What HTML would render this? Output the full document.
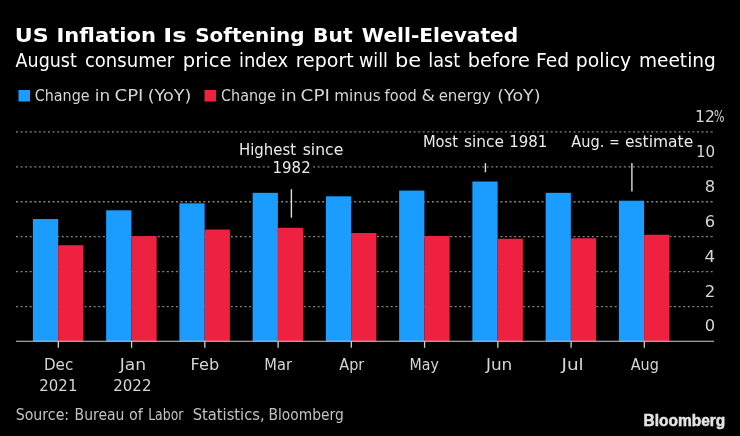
<!DOCTYPE html>
<html lang="en"><head><meta charset="utf-8"><title>US Inflation Is Softening But Well-Elevated</title>
<style>
html,body{margin:0;padding:0;background:#000;}
body{width:740px;height:436px;overflow:hidden;}
svg{display:block;}
text{font-family:"DejaVu Sans","Liberation Sans",sans-serif;}
.t{font-weight:bold;font-size:19.2px;fill:#fff;}
.s{font-size:18.7px;fill:#fff;}
.l{font-size:15.8px;fill:#d6d6d6;}
.x{font-size:15.8px;fill:#d6d6d6;}
.y{font-size:16px;fill:#d6d6d6;}
.a{font-size:15.5px;fill:#ececec;}
.src{font-size:15px;fill:#c2c2c2;}
.g{stroke:#848484;stroke-width:1.3;stroke-dasharray:2 2.57;fill:none;}
.ax{stroke:#cfcfcf;fill:none;}
.an{stroke:#dedede;stroke-width:1.4;fill:none;}
.logo{font-family:"Liberation Sans",sans-serif;font-weight:bold;font-size:16.1px;fill:#e4e4e4;stroke:#e4e4e4;stroke-width:0.5;}
</style></head><body>
<svg width="740" height="436" viewBox="0 0 740 436">
<rect width="740" height="436" fill="#000"/>

<text class="t" x="14.89" y="42.20" textLength="33.95" lengthAdjust="spacingAndGlyphs">US</text>
<text class="t" x="56.49" y="42.20" textLength="99.47" lengthAdjust="spacingAndGlyphs">Inflation</text>
<text class="t" x="163.39" y="42.20" textLength="23.29" lengthAdjust="spacingAndGlyphs">Is</text>
<text class="t" x="195.18" y="42.20" textLength="109.28" lengthAdjust="spacingAndGlyphs">Softening</text>
<text class="t" x="313.00" y="42.20" textLength="39.58" lengthAdjust="spacingAndGlyphs">But</text>
<text class="t" x="361.86" y="42.20" textLength="156.33" lengthAdjust="spacingAndGlyphs">Well-Elevated</text>
<text class="s" x="15.59" y="67.00" textLength="61.25" lengthAdjust="spacingAndGlyphs">August</text>
<text class="s" x="84.90" y="67.00" textLength="89.35" lengthAdjust="spacingAndGlyphs">consumer</text>
<text class="s" x="182.83" y="67.00" textLength="48.62" lengthAdjust="spacingAndGlyphs">price</text>
<text class="s" x="238.94" y="67.00" textLength="49.19" lengthAdjust="spacingAndGlyphs">index</text>
<text class="s" x="295.74" y="67.00" textLength="57.87" lengthAdjust="spacingAndGlyphs">report</text>
<text class="s" x="359.00" y="67.00" textLength="28.99" lengthAdjust="spacingAndGlyphs">will</text>
<text class="s" x="395.00" y="67.00" textLength="26.24" lengthAdjust="spacingAndGlyphs">be</text>
<text class="s" x="428.27" y="67.00" textLength="31.85" lengthAdjust="spacingAndGlyphs">last</text>
<text class="s" x="467.83" y="67.00" textLength="61.99" lengthAdjust="spacingAndGlyphs">before</text>
<text class="s" x="536.10" y="67.00" textLength="33.15" lengthAdjust="spacingAndGlyphs">Fed</text>
<text class="s" x="575.82" y="67.00" textLength="55.34" lengthAdjust="spacingAndGlyphs">policy</text>
<text class="s" x="639.02" y="67.00" textLength="76.80" lengthAdjust="spacingAndGlyphs">meeting</text>
<rect x="18.5" y="90" width="11.5" height="11.5" fill="#1a9dff"/>
<text class="l" x="34.68" y="101.00" textLength="54.90" lengthAdjust="spacingAndGlyphs">Change</text>
<text class="l" x="94.72" y="101.00" textLength="15.39" lengthAdjust="spacingAndGlyphs">in</text>
<text class="l" x="114.47" y="101.00" textLength="29.02" lengthAdjust="spacingAndGlyphs">CPI</text>
<text class="l" x="147.69" y="101.00" textLength="43.74" lengthAdjust="spacingAndGlyphs">(YoY)</text>
<rect x="204.5" y="90" width="11.5" height="11.5" fill="#ee2240"/>
<text class="l" x="221.00" y="101.00" textLength="55.08" lengthAdjust="spacingAndGlyphs">Change</text>
<text class="l" x="280.96" y="101.00" textLength="15.62" lengthAdjust="spacingAndGlyphs">in</text>
<text class="l" x="300.64" y="101.00" textLength="29.28" lengthAdjust="spacingAndGlyphs">CPI</text>
<text class="l" x="334.22" y="101.00" textLength="46.45" lengthAdjust="spacingAndGlyphs">minus</text>
<text class="l" x="384.59" y="101.00" textLength="32.25" lengthAdjust="spacingAndGlyphs">food</text>
<text class="l" x="421.45" y="101.00" textLength="13.42" lengthAdjust="spacingAndGlyphs">&amp;</text>
<text class="l" x="438.67" y="101.00" textLength="52.11" lengthAdjust="spacingAndGlyphs">energy</text>
<text class="l" x="497.28" y="101.00" textLength="43.23" lengthAdjust="spacingAndGlyphs">(YoY)</text>
<line class="g" x1="16" x2="714" y1="306.53" y2="306.53"/>
<line class="g" x1="16" x2="714" y1="271.61" y2="271.61"/>
<line class="g" x1="16" x2="714" y1="236.69" y2="236.69"/>
<line class="g" x1="16" x2="714" y1="201.77" y2="201.77"/>
<line class="g" x1="16" x2="714" y1="166.85" y2="166.85"/>
<line class="g" x1="16" x2="714" y1="131.93" y2="131.93"/>
<text class="y" x="695.12" y="122.00" textLength="19.92" lengthAdjust="spacingAndGlyphs">12</text>
<text class="y" x="714.05" y="122.00" textLength="10.42" lengthAdjust="spacingAndGlyphs">%</text>
<text class="y" x="696.03" y="157.00" textLength="19.17" lengthAdjust="spacingAndGlyphs">10</text>
<text class="y" x="704.84" y="191.90" textLength="10.41" lengthAdjust="spacingAndGlyphs">8</text>
<text class="y" x="704.80" y="226.80" textLength="10.39" lengthAdjust="spacingAndGlyphs">6</text>
<text class="y" x="704.56" y="261.70" textLength="10.59" lengthAdjust="spacingAndGlyphs">4</text>
<text class="y" x="704.82" y="296.60" textLength="10.45" lengthAdjust="spacingAndGlyphs">2</text>
<text class="y" x="704.87" y="331.20" textLength="10.42" lengthAdjust="spacingAndGlyphs">0</text>
<rect x="32.90" y="219.03" width="25.25" height="122.22" fill="#1a9dff"/>
<rect x="58.15" y="245.22" width="25.25" height="96.03" fill="#ee2240"/>
<rect x="106.15" y="210.30" width="25.25" height="130.95" fill="#1a9dff"/>
<rect x="131.40" y="236.14" width="25.25" height="105.11" fill="#ee2240"/>
<rect x="179.39" y="203.32" width="25.25" height="137.93" fill="#1a9dff"/>
<rect x="204.64" y="229.51" width="25.25" height="111.74" fill="#ee2240"/>
<rect x="252.63" y="192.84" width="25.25" height="148.41" fill="#1a9dff"/>
<rect x="277.88" y="227.76" width="25.25" height="113.49" fill="#ee2240"/>
<rect x="325.88" y="196.33" width="25.25" height="144.92" fill="#1a9dff"/>
<rect x="351.13" y="233.00" width="25.25" height="108.25" fill="#ee2240"/>
<rect x="399.12" y="190.57" width="25.25" height="150.68" fill="#1a9dff"/>
<rect x="424.38" y="235.97" width="25.25" height="105.28" fill="#ee2240"/>
<rect x="472.37" y="181.49" width="25.25" height="159.76" fill="#1a9dff"/>
<rect x="497.62" y="238.76" width="25.25" height="102.49" fill="#ee2240"/>
<rect x="545.62" y="192.84" width="25.25" height="148.41" fill="#1a9dff"/>
<rect x="570.87" y="238.24" width="25.25" height="103.01" fill="#ee2240"/>
<rect x="618.86" y="200.70" width="25.25" height="140.55" fill="#1a9dff"/>
<rect x="644.11" y="234.74" width="25.25" height="106.51" fill="#ee2240"/>
<line class="ax" x1="16" x2="714" y1="341.25" y2="341.25" stroke-width="1.2"/>
<line class="ax" x1="58.35" x2="58.35" y1="341.25" y2="347.8" stroke-width="1.3"/>
<line class="ax" x1="131.59" x2="131.59" y1="341.25" y2="347.8" stroke-width="1.3"/>
<line class="ax" x1="204.84" x2="204.84" y1="341.25" y2="347.8" stroke-width="1.3"/>
<line class="ax" x1="278.08" x2="278.08" y1="341.25" y2="347.8" stroke-width="1.3"/>
<line class="ax" x1="351.33" x2="351.33" y1="341.25" y2="347.8" stroke-width="1.3"/>
<line class="ax" x1="424.57" x2="424.57" y1="341.25" y2="347.8" stroke-width="1.3"/>
<line class="ax" x1="497.82" x2="497.82" y1="341.25" y2="347.8" stroke-width="1.3"/>
<line class="ax" x1="571.07" x2="571.07" y1="341.25" y2="347.8" stroke-width="1.3"/>
<line class="ax" x1="644.31" x2="644.31" y1="341.25" y2="347.8" stroke-width="1.3"/>
<text class="x" x="43.90" y="369.70" textLength="29.34" lengthAdjust="spacingAndGlyphs">Dec</text>
<text class="x" x="39.35" y="390.50" textLength="38.05" lengthAdjust="spacingAndGlyphs">2021</text>
<text class="x" x="119.65" y="369.70" textLength="26.37" lengthAdjust="spacingAndGlyphs">Jan</text>
<text class="x" x="113.15" y="390.50" textLength="38.37" lengthAdjust="spacingAndGlyphs">2022</text>
<text class="x" x="190.64" y="369.70" textLength="28.56" lengthAdjust="spacingAndGlyphs">Feb</text>
<text class="x" x="264.37" y="369.70" textLength="27.59" lengthAdjust="spacingAndGlyphs">Mar</text>
<text class="x" x="339.25" y="369.70" textLength="25.08" lengthAdjust="spacingAndGlyphs">Apr</text>
<text class="x" x="409.48" y="369.70" textLength="29.36" lengthAdjust="spacingAndGlyphs">May</text>
<text class="x" x="485.91" y="369.70" textLength="26.41" lengthAdjust="spacingAndGlyphs">Jun</text>
<text class="x" x="561.52" y="369.70" textLength="22.21" lengthAdjust="spacingAndGlyphs">Jul</text>
<text class="x" x="630.76" y="369.70" textLength="28.10" lengthAdjust="spacingAndGlyphs">Aug</text>
<rect x="238" y="141" width="107" height="17" fill="#000"/>
<rect x="271.5" y="158" width="40" height="18" fill="#000"/>
<text class="a" x="238.99" y="154.60" textLength="57.08" lengthAdjust="spacingAndGlyphs">Highest</text>
<text class="a" x="302.72" y="154.60" textLength="40.52" lengthAdjust="spacingAndGlyphs">since</text>
<text class="a" x="272.59" y="172.90" textLength="38.08" lengthAdjust="spacingAndGlyphs">1982</text>
<line class="an" x1="291.4" x2="291.4" y1="189.2" y2="217.7"/>
<rect x="422" y="133" width="127" height="17" fill="#000"/>
<text class="a" x="422.95" y="146.80" textLength="35.09" lengthAdjust="spacingAndGlyphs">Most</text>
<text class="a" x="464.00" y="146.80" textLength="40.03" lengthAdjust="spacingAndGlyphs">since</text>
<text class="a" x="509.31" y="146.80" textLength="38.11" lengthAdjust="spacingAndGlyphs">1981</text>
<line class="an" x1="485.4" x2="485.4" y1="163.1" y2="172.3"/>
<rect x="569" y="133" width="126" height="17" fill="#000"/>
<text class="a" x="571.23" y="146.80" textLength="33.05" lengthAdjust="spacingAndGlyphs">Aug.</text>
<text class="a" x="609.31" y="146.80" textLength="10.35" lengthAdjust="spacingAndGlyphs">=</text>
<text class="a" x="625.00" y="146.80" textLength="68.18" lengthAdjust="spacingAndGlyphs">estimate</text>
<line class="an" x1="631.9" x2="631.9" y1="163.1" y2="191.5"/>
<text class="src" x="15.69" y="420.00" textLength="53.45" lengthAdjust="spacingAndGlyphs">Source:</text>
<text class="src" x="74.55" y="420.00" textLength="49.88" lengthAdjust="spacingAndGlyphs">Bureau</text>
<text class="src" x="129.00" y="420.00" textLength="13.85" lengthAdjust="spacingAndGlyphs">of</text>
<text class="src" x="148.14" y="420.00" textLength="35.27" lengthAdjust="spacingAndGlyphs">Labor</text>
<text class="src" x="192.65" y="420.00" textLength="71.98" lengthAdjust="spacingAndGlyphs">Statistics,</text>
<text class="src" x="268.56" y="420.00" textLength="75.22" lengthAdjust="spacingAndGlyphs">Bloomberg</text>
<text class="logo" x="643.62" y="425.80" textLength="81.68" lengthAdjust="spacingAndGlyphs">Bloomberg</text>
</svg>
</body></html>
